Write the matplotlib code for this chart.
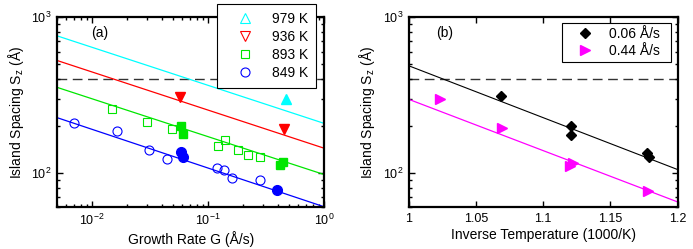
import matplotlib

matplotlib.use("Agg")
import matplotlib.pyplot as plt
from matplotlib.lines import Line2D
from matplotlib.ticker import FixedLocator, LogLocator, NullFormatter

plt.rcParams["font.family"] = ["Liberation Sans", "DejaVu Sans"]
plt.rcParams["mathtext.default"] = "regular"

# ---- panel (a): island spacing vs growth rate ----
g_849_open = [0.0069, 0.0163, 0.0309, 0.0445, 0.119, 0.137, 0.161, 0.283]
s_849_open = [209, 187, 140, 122, 108, 103.5, 92.3, 89.7]
g_849_fill = [0.0578, 0.0605, 0.391]
s_849_fill = [137, 127, 77]

g_893_open = [0.0147, 0.0299, 0.0488, 0.121, 0.141, 0.182, 0.223, 0.279]
s_893_open = [259, 212, 191, 148, 163, 140, 130, 127]
g_893_fill = [0.0578, 0.0605, 0.418, 0.446]
s_893_fill = [201, 178, 112, 118]

g_936_fill = [0.0568, 0.452]
s_936_fill = [307, 191]

g_979_fill = [0.468]
s_979_fill = [300]

# fit lines (end points at G = 0.005 and G = 1)
g_fit = [0.005, 1.0]
s_fit_979 = [759, 208]
s_fit_936 = [527, 144]
s_fit_893 = [354, 97.5]
s_fit_849 = [226, 60.5]

# ---- panel (b): island spacing vs inverse temperature ----
t_006 = [1.069, 1.121, 1.121, 1.1773, 1.1788]
s_006 = [310, 199, 176, 135, 127]
t_044 = [1.023, 1.0696, 1.120, 1.122, 1.178]
s_044 = [299, 194, 110, 116, 76.2]

t_fit = [1.0, 1.2]
s_fit_006 = [488, 105]
s_fit_044 = [297, 65]

s_limit = 400  # dashed reference line

C_CYAN = "#00ffff"
C_RED = "#ff0000"
C_GREEN = "#00e600"
C_BLUE = "#0000ff"
C_MAG = "#ff00ff"

W, H = 693, 249
fig = plt.figure(figsize=(W / 100, H / 100), dpi=100)
ax1 = fig.add_axes([57.3 / W, 1 - 207.3 / H, (324 - 57.3) / W, (207.3 - 17.3) / H])
ax2 = fig.add_axes([408.7 / W, 1 - 207.3 / H, (677.5 - 408.7) / W, (207.3 - 17.3) / H])


def style_axes(ax):
    for sp in ax.spines.values():
        sp.set_linewidth(1.6)
    ax.tick_params(which="both", direction="in", top=True, right=True,
                   labelsize=9, width=1.0, pad=4)
    ax.tick_params(which="major", length=4)
    ax.tick_params(which="minor", length=2.5)
    ax.set_yscale("log")
    ax.set_ylim(60, 1000)
    ax.yaxis.set_major_locator(FixedLocator([100, 1000]))
    ax.yaxis.set_minor_locator(LogLocator(base=10, subs=range(2, 10)))
    ax.yaxis.set_minor_formatter(NullFormatter())
    ax.set_ylabel("Island Spacing S$_z$ (Å)", fontsize=10, labelpad=4)


# ---- (a) ----
style_axes(ax1)
ax1.set_xscale("log")
ax1.set_xlim(0.005, 1)
ax1.xaxis.set_minor_locator(LogLocator(base=10, subs=range(2, 10)))
ax1.xaxis.set_minor_formatter(NullFormatter())

ax1.axhline(s_limit, color="#333333", lw=1.0, ls=(0, (7, 4)), zorder=1)
for s_fit, c in [(s_fit_979, C_CYAN), (s_fit_936, C_RED),
                 (s_fit_893, C_GREEN), (s_fit_849, C_BLUE)]:
    ax1.plot(g_fit, s_fit, color=c, lw=0.9, zorder=2)

ax1.plot(g_849_open, s_849_open, "o", ms=6.5, mfc="none", mec=C_BLUE, mew=0.8, zorder=3)
ax1.plot(g_849_fill, s_849_fill, "o", ms=7, color=C_BLUE, zorder=3)
ax1.plot(g_893_open, s_893_open, "s", ms=5.5, mfc="none", mec=C_GREEN, mew=0.8, zorder=3)
ax1.plot(g_893_fill, s_893_fill, "s", ms=6, color=C_GREEN, zorder=3)
ax1.plot(g_936_fill, s_936_fill, "v", ms=7, color=C_RED, zorder=3)
ax1.plot(g_979_fill, s_979_fill, "^", ms=7, color=C_CYAN, zorder=3)

ax1.text(0.16, 0.915, "(a)", transform=ax1.transAxes, fontsize=10,
         ha="center", va="center")
ax1.set_xlabel("Growth Rate G (Å/s)", fontsize=10, labelpad=2)

handles_a = [
    Line2D([], [], ls="none", marker="^", ms=7, mfc="none", mec=C_CYAN, mew=0.8),
    Line2D([], [], ls="none", marker="v", ms=7, mfc="none", mec=C_RED, mew=0.8),
    Line2D([], [], ls="none", marker="s", ms=5.5, mfc="none", mec=C_GREEN, mew=0.8),
    Line2D([], [], ls="none", marker="o", ms=6.5, mfc="none", mec=C_BLUE, mew=0.8),
]
leg_a = ax1.legend(handles_a, ["979 K", "936 K", "893 K", "849 K"],
                   loc="upper left", bbox_to_anchor=(216.7 / W, 1 - 4 / H),
                   bbox_transform=fig.transFigure, fontsize=10,
                   borderpad=0.55, handlelength=3.0, handletextpad=0.45,
                   labelspacing=0.3, borderaxespad=0, fancybox=False,
                   framealpha=1, edgecolor="black")
leg_a.get_frame().set_linewidth(0.8)
leg_a.set_zorder(5)

# ---- (b) ----
style_axes(ax2)
ax2.set_xlim(1.0, 1.2)
ax2.set_xticks([1.0, 1.05, 1.1, 1.15, 1.2])
ax2.set_xticklabels(["1", "1.05", "1.1", "1.15", "1.2"])

ax2.axhline(s_limit, color="#333333", lw=1.0, ls=(0, (7, 4)), zorder=1)
ax2.plot(t_fit, s_fit_006, color="black", lw=0.8, zorder=2)
ax2.plot(t_fit, s_fit_044, color=C_MAG, lw=0.9, zorder=2)
ax2.plot(t_006, s_006, "D", ms=5.5, color="black", zorder=3, label="0.06 Å/s")
ax2.plot(t_044, s_044, ">", ms=7, color=C_MAG, zorder=3, label="0.44 Å/s")

ax2.text(0.134, 0.915, "(b)", transform=ax2.transAxes, fontsize=10,
         ha="center", va="center")
ax2.set_xlabel("Inverse Temperature (1000/K)", fontsize=10, labelpad=2)

leg_b = ax2.legend(loc="upper left",
                   bbox_to_anchor=(561.7 / W, 1 - 62.7 / H, 109 / W, 40 / H),
                   bbox_transform=fig.transFigure, mode="expand", fontsize=10,
                   borderpad=0.3, handlelength=2.8, handletextpad=0.3,
                   labelspacing=0.2, borderaxespad=0, fancybox=False,
                   framealpha=1, edgecolor="black")
leg_b.get_frame().set_linewidth(0.8)

fig.savefig("out.png", dpi=100)
